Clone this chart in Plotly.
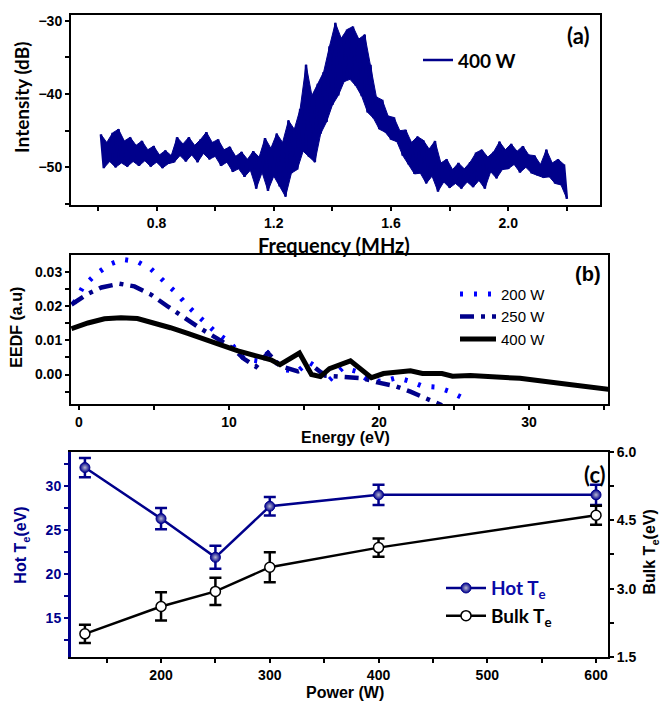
import plotly.graph_objects as go

W, H = 662, 713

# ---------------- Panel (a): spectrum (400 W) ----------------
# upper excursions at f = 0.61, 0.63, ... 2.19 MHz ; lower at f = 0.62, 0.64, ... 2.20 MHz
spec_upper = [
    -45.5, -46.6, -45.3, -44.8, -46.4, -45.9, -47.0, -46.4, -47.6, -47.1,
    -48.3, -47.7, -48.4, -45.9, -46.8, -45.9, -47.0, -46.2, -45.2, -46.6,
    -46.2, -47.6, -47.2, -48.5, -47.9, -48.9, -47.8, -48.6, -46.0, -47.4,
    -45.4, -46.6, -43.6, -44.8, -42.0, -36.0, -40.2, -38.6, -37.0, -33.5,
    -30.3, -32.4, -31.2, -30.8, -32.5, -31.9, -36.0, -40.4, -40.8, -43.0,
    -43.2, -45.0, -44.9, -46.6, -45.8, -46.3, -47.5, -46.4, -49.4, -48.9,
    -50.3, -49.4, -50.2, -49.3, -48.0, -47.6, -48.6, -47.9, -46.5, -47.6,
    -46.8, -47.8, -47.1, -48.3, -48.4, -49.6, -47.6, -49.4, -48.9, -49.6,
]
spec_lower = [
    -50.1, -49.2, -50.0, -49.4, -49.9, -49.2, -49.8, -49.1, -49.9, -49.3,
    -50.1, -49.5, -49.3, -48.4, -49.2, -48.3, -49.3, -48.1, -48.9, -48.5,
    -49.8, -49.3, -50.6, -50.2, -51.3, -50.4, -52.9, -50.7, -53.2, -51.2,
    -52.6, -54.0, -50.8, -50.3, -47.8, -48.6, -49.3, -45.4, -43.8, -41.5,
    -40.2, -38.3, -38.0, -38.9, -40.3, -42.5, -43.3, -44.8, -45.2, -46.2,
    -46.5, -48.4, -49.6, -50.9, -50.8, -52.2, -51.2, -53.3, -52.0, -52.8,
    -52.2, -52.9, -52.0, -52.7, -51.8, -52.9, -50.6, -51.5, -50.3, -50.2,
    -49.6, -50.7, -50.0, -50.8, -51.1, -51.4, -51.3, -52.2, -52.4, -54.3,
]
spec_f0, spec_df = 0.61, 0.01
intensity = []
for u, l in zip(spec_upper, spec_lower):
    intensity += [u, l]
freq = [round(spec_f0 + spec_df * i, 3) for i in range(len(intensity))]
freq_upper = freq[0::2]
freq_lower = freq[1::2]

# ---------------- Panel (b): EEDF ----------------
e200 = [-0.33, 0.27, 1.13, 2.07, 2.93, 3.87, 4.8, 5.67, 6.53, 7.33, 8.27, 9.13, 10.07,
        11.0, 11.9, 12.6, 13.6, 14.6, 15.3, 15.9, 16.6, 17.6, 18.5, 19.3, 20.3, 21.2,
        22.1, 22.9, 23.9, 24.8, 25.7]
v200 = [0.0209, 0.0257, 0.0294, 0.0323, 0.0337, 0.0331, 0.0309, 0.0274, 0.0237, 0.0197,
        0.0160, 0.0123, 0.0094, 0.0046, 0.0040, 0.0063, 0.0014, 0.0010, 0.0037, 0.0020,
        -0.0020, 0.0020, 0.0009, -0.0017, -0.0020, -0.0009, -0.0020, -0.0034, -0.0037,
        -0.0051, -0.0071]
e250 = [-0.5, 0.5, 1.5, 2.7, 3.7, 4.8, 5.9, 7.0, 8.1, 9.2, 10.3, 11.0, 11.8, 12.6, 13.4,
        14.6, 15.6, 16.4, 17.6, 18.9, 19.9, 21.1, 22.1, 23.3, 24.2]
v250 = [0.0205, 0.0234, 0.0255, 0.0266, 0.0258, 0.0234, 0.0200, 0.0166, 0.0135, 0.0106,
        0.0075, 0.0046, 0.0023, 0.0063, 0.0025, 0.0009, 0.0025, -0.0003, -0.0006, -0.0011,
        -0.0023, -0.0034, -0.0050, -0.0071, -0.0090]
e400 = [-0.5, 0.6, 1.7, 2.8, 3.9, 5.0, 6.1, 7.3, 8.3, 9.5, 10.6, 11.7, 12.8, 13.4, 14.7,
        15.5, 16.1, 16.7, 18.1, 19.5, 20.3, 22.1, 22.9, 24.2, 24.9, 26.1, 29.4, 32.7, 35.3]
v400 = [0.0134, 0.0151, 0.0163, 0.0166, 0.0164, 0.0151, 0.0137, 0.0120, 0.0103, 0.0086,
        0.0069, 0.0057, 0.0043, 0.0029, 0.0063, 0.0000, -0.0006, 0.0017, 0.0040, -0.0009,
        0.0003, 0.0011, 0.0003, 0.0003, -0.0005, -0.0003, -0.0011, -0.0029, -0.0043]

# ---------------- Panel (c): temperatures ----------------
power = [130, 200, 250, 300, 400, 600]
hot_te = [32.1, 26.3, 21.9, 27.7, 29.0, 29.0]
hot_err = [1.1, 1.2, 1.3, 1.05, 1.15, 1.15]
bulk_te = [2.01, 2.61, 2.94, 3.47, 3.90, 4.61]
bulk_err = [0.20, 0.31, 0.30, 0.33, 0.20, 0.21]

NAVY = "#00008B"
BLUE = "#0000FF"
ARIAL = "Liberation Sans"
CAL = "Lato"


def px_x(p):
    return p / W


def px_y(p):
    return 1 - p / H


fig = go.Figure()

# band of the noisy spectrum (filled between its lower and upper excursions)
fig.add_trace(go.Scatter(x=freq_lower, y=spec_lower, mode="lines",
                         line=dict(color=NAVY, width=1), showlegend=False,
                         hoverinfo="skip", xaxis="x", yaxis="y"))
fig.add_trace(go.Scatter(x=freq_upper, y=spec_upper, mode="lines", fill="tonexty",
                         fillcolor=NAVY, line=dict(color=NAVY, width=1),
                         showlegend=False, hoverinfo="skip", xaxis="x", yaxis="y"))
fig.add_trace(go.Scatter(x=freq, y=intensity, mode="lines", name="400 W",
                         line=dict(color=NAVY, width=2.5), xaxis="x", yaxis="y",
                         legend="legend"))

fig.add_trace(go.Scatter(x=e200, y=v200, mode="lines", name="200 W",
                         line=dict(color=BLUE, width=5, dash="3px,11px"),
                         xaxis="x2", yaxis="y2", legend="legend2"))
fig.add_trace(go.Scatter(x=e250, y=v250, mode="lines", name="250 W",
                         line=dict(color=NAVY, width=4.5, dash="14px,7px,4px,7px"),
                         xaxis="x2", yaxis="y2", legend="legend2"))
fig.add_trace(go.Scatter(x=e400, y=v400, mode="lines", name="400 W",
                         line=dict(color="black", width=5),
                         xaxis="x2", yaxis="y2", legend="legend2"))

fig.add_trace(go.Scatter(x=power, y=hot_te, mode="lines+markers",
                         name="<span style='color:#0a0aa8'>Hot T<sub>e</sub></span>",
                         line=dict(color=NAVY, width=2.5),
                         marker=dict(color=NAVY, size=10, symbol="circle",
                                     gradient=dict(type="radial", color="#b8b8d0"),
                                     line=dict(color=NAVY, width=1)),
                         error_y=dict(type="data", array=hot_err, color=NAVY,
                                      thickness=2.5, width=6),
                         xaxis="x3", yaxis="y3", legend="legend3"))
fig.add_trace(go.Scatter(x=power, y=bulk_te, mode="lines+markers",
                         name="Bulk T<sub>e</sub>",
                         line=dict(color="black", width=2.5),
                         marker=dict(color="white", size=10, symbol="circle",
                                     line=dict(color="black", width=1.5)),
                         error_y=dict(type="data", array=bulk_err, color="black",
                                      thickness=2.5, width=6),
                         xaxis="x3", yaxis="y4", legend="legend3"))

tickf = dict(family=ARIAL, size=14, color="black", weight="bold")
common = dict(showline=True, linecolor="black", linewidth=2, ticks="outside",
              ticklen=4, tickwidth=2, tickcolor="black", showgrid=False,
              zeroline=False, tickfont=tickf)
minor_common = dict(ticks="outside", ticklen=4, tickwidth=2, tickcolor="black")

xa_dom = [px_x(71), px_x(600)]
xb_dom = [px_x(71), px_x(608)]

fig.update_layout(
    width=W, height=H, margin=dict(l=0, r=0, t=0, b=0),
    paper_bgcolor="white", plot_bgcolor="white",
    xaxis=dict(domain=xa_dom, anchor="y", range=[0.508, 2.313], tick0=0.8, dtick=0.4,
               tickformat=".1f", mirror=True,
               minor=dict(dtick=0.2, tick0=0.8, **minor_common), **common),
    yaxis=dict(domain=[px_y(202), px_y(7)], anchor="x", range=[-55.2, -29.2],
               tick0=-30, dtick=10, mirror=True,
               minor=dict(dtick=5, tick0=-30, **minor_common), **common),
    xaxis2=dict(domain=xb_dom, anchor="y2", range=[-0.53, 35.27], tick0=0, dtick=10,
                mirror=True, minor=dict(dtick=5, **minor_common), **common),
    yaxis2=dict(domain=[px_y(405), px_y(253)], anchor="x2", range=[-0.0086, 0.0349],
                tick0=0, dtick=0.01, tickformat=".2f", mirror=True,
                minor=dict(dtick=0.005, **minor_common), **common),
    xaxis3=dict(domain=xb_dom, anchor="y3", range=[117.2, 611], tick0=0, dtick=100,
                mirror=True, minor=dict(dtick=50, **minor_common), **common),
    yaxis3=dict(domain=[px_y(664), px_y(454)], anchor="x3", range=[10.56, 33.89],
                tick0=0, dtick=5, showline=True, linecolor=NAVY, linewidth=3,
                ticks="outside", ticklen=4, tickwidth=2, tickcolor=NAVY,
                showgrid=False, zeroline=False,
                tickfont=dict(family=ARIAL, size=14, color=NAVY, weight="bold"),
                minor=dict(dtick=2.5, ticks="outside", ticklen=4, tickwidth=2,
                           tickcolor=NAVY)),
    yaxis4=dict(anchor="x3", overlaying="y3", side="right", range=[1.5, 6.0],
                tick0=0, dtick=1.5, tickformat=".1f",
                minor=dict(dtick=0.75, **minor_common), **common),
    showlegend=True,
    legend=dict(x=px_x(418), y=px_y(34), xanchor="left", yanchor="top",
                bgcolor="rgba(0,0,0,0)", itemwidth=30,
                font=dict(family=CAL, size=19, color="black", weight="bold")),
    legend2=dict(x=px_x(455), y=px_y(276), xanchor="left", yanchor="top",
                 bgcolor="rgba(0,0,0,0)", itemwidth=36, tracegroupgap=0,
                 font=dict(family=ARIAL, size=15, color="black")),
    legend3=dict(x=px_x(441), y=px_y(574), xanchor="left", yanchor="top",
                 bgcolor="rgba(0,0,0,0)", itemwidth=40,
                 font=dict(family=CAL, size=19, color="black", weight="bold")),
)

ann = [
    dict(text="Intensity (dB)", x=px_x(22), y=px_y(92), textangle=-90,
         font=dict(family=CAL, size=19, weight="bold")),
    dict(text="Frequency (MHz)", x=px_x(334), y=px_y(242),
         font=dict(family=CAL, size=20, weight="bold")),
    dict(text="(a)", x=px_x(578), y=px_y(28),
         font=dict(family=CAL, size=22, weight="bold")),
    dict(text="EEDF (a.u)", x=px_x(17), y=px_y(327), textangle=-90,
         font=dict(family=ARIAL, size=16, weight="bold")),
    dict(text="Energy (eV)", x=px_x(345), y=px_y(439),
         font=dict(family=ARIAL, size=16, weight="bold")),
    dict(text="(b)", x=px_x(588), y=px_y(272),
         font=dict(family=ARIAL, size=20, weight="bold")),
    dict(text="Hot T<sub>e</sub>(eV)", x=px_x(22), y=px_y(550), textangle=-90,
         font=dict(family=ARIAL, size=16, color=NAVY, weight="bold")),
    dict(text="Bulk T<sub>e</sub>(eV)", x=px_x(651), y=px_y(557), textangle=-90,
         font=dict(family=ARIAL, size=16, weight="bold")),
    dict(text="Power (W)", x=px_x(345), y=px_y(700),
         font=dict(family=ARIAL, size=16, weight="bold")),
    dict(text="(c)", x=px_x(595), y=px_y(477),
         font=dict(family=CAL, size=22, weight="bold")),
]
for a in ann:
    a.update(xref="paper", yref="paper", showarrow=False, xanchor="center",
             yanchor="middle")
    a["font"].setdefault("color", "black")
fig.update_layout(annotations=ann)

fig.write_html("out.html")
